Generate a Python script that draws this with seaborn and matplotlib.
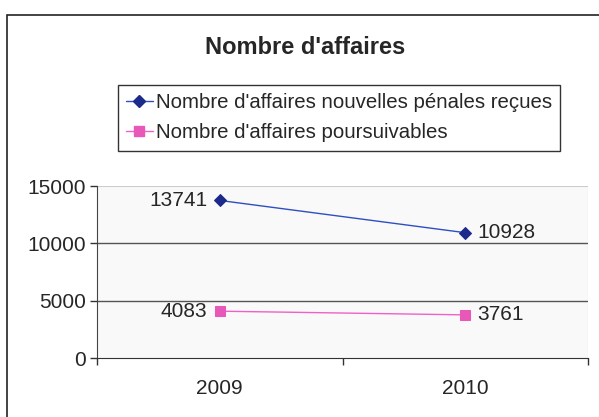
import pandas as pd
import matplotlib
matplotlib.use('Agg')
import matplotlib.pyplot as plt
import seaborn as sb
from matplotlib.patches import Rectangle

years = ['2009', '2010']
recues = [13741, 10928]
poursuivables = [4083, 3761]
series_names = ["Nombre d'affaires nouvelles pénales reçues",
                "Nombre d'affaires poursuivables"]
yticks = [0, 5000, 10000, 15000]

df = pd.DataFrame({
    'pos': list(range(len(years))) * 2,
    'value': recues + poursuivables,
    'serie': [series_names[0]] * len(years) + [series_names[1]] * len(years),
})

sb.set_style('white')
plt.rcParams['font.family'] = ['Liberation Sans', 'DejaVu Sans']

fig = plt.figure(figsize=(5.99, 4.17), dpi=100)
ax = fig.add_axes([97 / 599, 1 - 358 / 417, (588 - 97) / 599, (358 - 186) / 417])
ax.set_facecolor('#f9f9f9')

palette = {series_names[0]: '#2f4fc0', series_names[1]: '#f060c8'}
markers = {series_names[0]: 'D', series_names[1]: 's'}
mcolors = ['#1c2a8c', '#e858b8']
sb.lineplot(data=df, x='pos', y='value', hue='serie', style='serie',
            palette=palette, markers=markers, dashes=False, ax=ax,
            linewidth=1, markersize=6.5, legend=False)
for line, mc in zip(ax.lines, mcolors):
    line.set_markerfacecolor(mc)
    line.set_markeredgecolor(mc)

ax.set_xlim(-0.5, 1.5)
ax.set_ylim(0, 15000)
ax.set_xlabel('')
ax.set_ylabel('')
ax.set_yticks(yticks)
ax.set_yticklabels([str(t) for t in yticks], fontsize=15)
ax.set_xticks([-0.5, 0.5, 1.5])
ax.set_xticklabels([])
ax.set_xticks([0, 1], minor=True)
ax.set_xticklabels(years, minor=True, fontsize=15)
ax.tick_params(axis='x', which='minor', length=0, pad=15)
ax.tick_params(axis='both', which='major', direction='out', length=5,
               width=1, color='#333333', left=True, bottom=True)
ax.tick_params(axis='y', pad=3)

for y in [5000, 10000]:
    ax.axhline(y, color='#555555', linewidth=1, zorder=0)
ax.axhline(15000, color='#cccccc', linewidth=0.8, zorder=0)

for side in ['top', 'right']:
    ax.spines[side].set_visible(False)
ax.spines['left'].set_color('#444444')
ax.spines['bottom'].set_color('#333333')
ax.plot([1.5, 1.5], [0, 15000], color='#cccccc', linewidth=0.8, zorder=0)

# data labels
for vals in (recues, poursuivables):
    for i, v in enumerate(vals):
        if i == 0:
            ax.annotate(str(v), (i, v), xytext=(-9, 0), textcoords='offset points',
                        ha='right', va='center', fontsize=15)
        else:
            ax.annotate(str(v), (i, v), xytext=(9, 0), textcoords='offset points',
                        ha='left', va='center', fontsize=15)

fig.text(305 / 599, 1 - 47 / 417, "Nombre d'affaires", ha='center', va='center',
         fontsize=17, fontweight='bold')

handles = [plt.Line2D([], [], color=palette[s], marker=markers[s], linewidth=1,
                      markersize=6.5, markerfacecolor=mc, markeredgecolor=mc)
           for s, mc in zip(series_names, mcolors)]
leg = fig.legend(handles, series_names, loc='upper left',
                 bbox_to_anchor=(118 / 599, 1 - 85 / 417), fontsize=14.7,
                 frameon=True, fancybox=False, handlelength=1.3,
                 handletextpad=0.15, borderpad=0.4, labelspacing=0.55,
                 borderaxespad=0)
leg.get_frame().set_edgecolor('black')
leg.get_frame().set_linewidth(1)

fig.patches.append(Rectangle((7 / 599, -0.1), 1.2, 1.1 - 15 / 417,
                             transform=fig.transFigure, fill=False,
                             edgecolor='#222222', linewidth=1.2))

fig.savefig('out.png', dpi=100)
